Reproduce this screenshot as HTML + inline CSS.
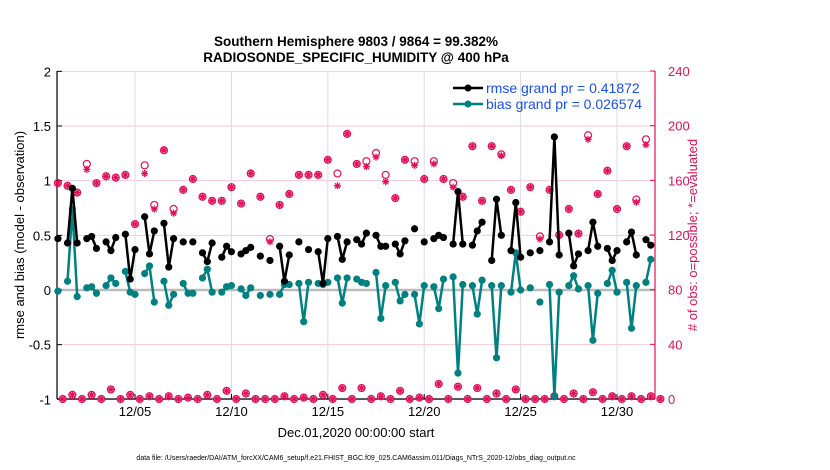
<!DOCTYPE html>
<html><head><meta charset="utf-8"><style>
body{margin:0;background:#fff;}
svg{display:block;font-family:"Liberation Sans",sans-serif;}
</style></head><body>
<svg id="chart" width="830" height="470">
<text x="356" y="46" text-anchor="middle" font-size="13.5" font-weight="bold">Southern Hemisphere 9803 / 9864 = 99.382%</text>
<text x="356" y="62" text-anchor="middle" font-size="13.5" font-weight="bold">RADIOSONDE_SPECIFIC_HUMIDITY @ 400 hPa</text>
<g id="grid"></g><g id="axes"></g><g id="marks"></g>
<text x="356" y="437" text-anchor="middle" font-size="13">Dec.01,2020 00:00:00 start</text>
<text transform="translate(24,235) rotate(-90)" text-anchor="middle" font-size="13">rmse and bias (model - observation)</text>
<text transform="translate(697,235) rotate(-90)" text-anchor="middle" font-size="13" fill="#e0105a"># of obs: o=possible; *=evaluated</text>
<text x="356" y="460" text-anchor="middle" font-size="7">data file: /Users/raeder/DAI/ATM_forcXX/CAM6_setup/f.e21.FHIST_BGC.f09_025.CAM6assim.011/Diags_NTrS_2020-12/obs_diag_output.nc</text>
<g>
<line x1="453" y1="88" x2="483" y2="88" stroke="#000" stroke-width="2.5"/><circle cx="468" cy="88" r="3.5" fill="#000"/>
<text x="486" y="93" font-size="14" fill="#1a4fe8">rmse grand pr = 0.41872</text>
<line x1="453" y1="104" x2="483" y2="104" stroke="#008080" stroke-width="2.5"/><circle cx="468" cy="104" r="3.5" fill="#008080"/>
<text x="486" y="109" font-size="14" fill="#1a4fe8">bias grand pr = 0.026574</text>
</g>
</svg>
<script>
const slots=[0,2,3,4,6,7,8,10,11,12,14,15,16,18,19,20,22,23,24,26,27,28,30,31,32,34,35,36,38,39,40,42,44,46,47,48,50,51,52,54,55,56,58,59,60,62,63,64,66,67,68,70,71,72,74,75,76,78,79,80,82,83,84,86,87,88,90,91,92,94,95,96,98,100,102,103,104,106,107,108,110,111,112,114,115,116,118,119,120,122,123];
const rmse=[.47,.43,.93,.43,.47,.49,.38,.44,.36,.48,.51,.10,.37,.67,.33,.54,.61,.21,.47,.44,null,.44,.34,.26,.43,.30,.40,.35,.33,.36,.39,.31,.27,.40,.08,.32,.44,null,.37,.35,.06,.47,.49,.28,.44,.46,.42,.52,.50,.40,.40,.42,.33,.45,.56,null,.44,.47,.50,.48,.42,.90,.42,.41,.54,.62,.27,.83,.50,.36,.80,.30,.34,.36,.44,1.40,.32,.52,.22,.33,.36,.62,.40,.38,.27,.36,.44,.53,.32,.46,.41];
const bias=[-.01,.08,.74,-.06,.02,.03,-.03,.04,.11,.06,.17,-.02,-.04,.15,.22,-.11,.08,-.14,-.04,.06,-.03,-.03,.11,.19,-.02,-.02,.03,.04,.01,-.05,.02,-.05,-.04,-.04,.05,.05,.06,-.29,.07,.06,.05,.07,.11,-.12,.11,.10,.07,.06,.16,-.26,.04,.07,-.10,-.04,-.04,-.31,.04,.03,-.17,.10,.12,-.76,.05,.04,-.22,.09,.04,-.62,.04,-.02,.34,.00,.02,-.11,.05,-.97,-.02,.04,.13,.01,.04,-.46,-.03,.06,.18,-.02,.07,-.35,.04,.07,.28];
const obsSlots=[0,2,4,6,8,10,12,14,16,18,20,22,24,26,28,30,32,34,36,38,40,42,44,46,48,50,52,54,56,58,60,62,64,66,68,70,72,74,76,78,80,82,84,86,88,90,92,94,96,98,100,102,104,106,108,110,112,114,116,118,120,122];
const obsPossible=[158,156,151,172,158,163,162,164,128,171,142,182,139,153,161,148,145,145,155,143,165,148,117,142,150,164,164,164,175,165,194,172,174,180,164,147,175,174,161,174,161,158,148,185,145,185,179,153,137,155,119,153,120,139,121,193,150,167,139,185,146,190];
const obsUsed=[158,156,151,168,158,163,162,164,128,165,139,182,136,153,161,148,145,145,155,143,165,148,115,142,150,164,164,164,175,156,194,172,170,177,159,147,175,171,161,172,161,155,148,185,145,185,178,153,137,155,117,153,120,139,121,190,150,167,139,185,144,186];
const lowSlots=[1,3,5,7,9,11,13,15,17,19,21,23,25,27,29,31,33,35,37,39,41,43,45,47,49,51,53,55,57,59,61,63,65,67,69,71,73,75,77,79,81,83,85,87,89,91,93,95,97,99,101,103,105,107,109,111,113,115,117,119,121,123,125];
const lowObs=[0,3,0,3,0,7,0,3,0,2,0,2,0,1,0,3,0,6,0,4,0,0,0,2,0,1,0,3,0,8,0,8,0,2,0,6,0,1,0,11,0,9,0,8,0,4,0,7,0,0,0,2,0,4,0,5,0,2,0,2,0,2,0];
const yTicks=[-1,-0.5,0,0.5,1,1.5,2];
const y2Ticks=[0,40,80,120,160,200,240];
const xTickDays=[5,10,15,20,25,30];
const xTickLabels=["12/05","12/10","12/15","12/20","12/25","12/30"];

const NS="http://www.w3.org/2000/svg";
const L=57,R=655,T=71,B=399;
const X=s=>57.9+4.82*s;
const Y=v=>290-v*109.33;
const Y2=n=>B-n*(B-T)/240;
const PINK="#e0105a";
function mk(parent,tag,attrs){const e=document.createElementNS(NS,tag);for(const k in attrs)e.setAttribute(k,attrs[k]);document.getElementById(parent).appendChild(e);return e;}

yTicks.forEach(v=>{
 const g=mk('grid','line',{x1:L,x2:R,y1:Y(v),y2:Y(v),stroke:'#f6c9d9','stroke-width':1});
 
 
 const t=mk('axes','text',{x:L-6,y:Y(v)+5,'text-anchor':'end','font-size':13});
 t.textContent=String(v);
 
 
 mk('axes','line',{x1:L,x2:L+5,y1:Y(v),y2:Y(v),stroke:'#000'});
});
y2Ticks.forEach(n=>{
 const t=mk('axes','text',{x:R+13,y:Y2(n)+5,'font-size':13,fill:PINK});
 t.textContent=String(n);
 
 
 mk('axes','line',{x1:R-5,x2:R,y1:Y2(n),y2:Y2(n),stroke:PINK});
});
xTickDays.forEach((d,i)=>{
 const x=X((d-1)*4);
 const g=mk('grid','line',{x1:x,x2:x,y1:T,y2:B,stroke:'#dcdcdc','stroke-width':1});
 
 
 mk('axes','line',{x1:x,x2:x,y1:B,y2:B-5,stroke:'#000'});
 const t=mk('axes','text',{x:x,y:B+17,'text-anchor':'middle','font-size':13});
 t.textContent=xTickLabels[i];
 
 
});
const z=mk('grid','line',{x1:L,x2:R,y1:Y(0),y2:Y(0),stroke:'#bbbbbb','stroke-width':2.5});


mk('axes','line',{x1:L,x2:L,y1:T,y2:B,stroke:'#000','stroke-width':1.2});
mk('axes','line',{x1:L,x2:R,y1:B,y2:B,stroke:'#000','stroke-width':1.2});
mk('axes','line',{x1:R,x2:R,y1:T,y2:B,stroke:PINK,'stroke-width':1.2});

function asterisk(x,y,name){
 const d=`M${x-3.5},${y}H${x+3.5}M${x},${y-3.5}V${y+3.5}M${x-2.5},${y-2.5}L${x+2.5},${y+2.5}M${x-2.5},${y+2.5}L${x+2.5},${y-2.5}`;
 const p=mk('marks','path',{d:d,stroke:PINK,'stroke-width':1.3,fill:'none'});
 
 
}
obsSlots.forEach((s,i)=>{
 const c=mk('marks','circle',{cx:X(s),cy:Y2(obsPossible[i]),r:3.5,fill:'none',stroke:PINK,'stroke-width':1.2});
 
 
 asterisk(X(s),Y2(obsUsed[i]),'obs-evaluated-marker');
});
lowSlots.forEach((s,i)=>{
 const c=mk('marks','circle',{cx:X(s),cy:Y2(lowObs[i]),r:3.5,fill:'none',stroke:PINK,'stroke-width':1.2});
 
 
 asterisk(X(s),Y2(lowObs[i]),'obs-evaluated-marker');
});

function series(vals,color,name){
 let d='';
 for(let i=0;i<slots.length;i++){
  if(vals[i]==null)continue;
  const cont=i>0&&vals[i-1]!=null&&slots[i]-slots[i-1]==1;
  d+=(cont?'L':'M')+X(slots[i]).toFixed(1)+','+Y(vals[i]).toFixed(1);
 }
 const p=mk('marks','path',{d:d,stroke:color,'stroke-width':2.5,fill:'none','stroke-linejoin':'round'});
 
 
 slots.forEach((s,i)=>{
  if(vals[i]==null)return;
  const c=mk('marks','circle',{cx:X(s),cy:Y(vals[i]),r:3.6,fill:color});
  
  
 });
}
series(bias,'#008080','bias');
series(rmse,'#000000','rmse');
</script>
</body></html>
